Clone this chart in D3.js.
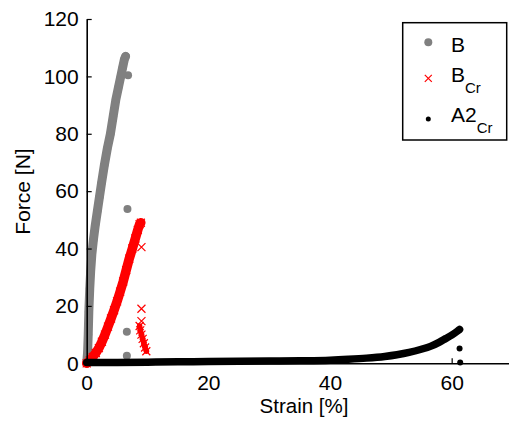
<!DOCTYPE html>
<html>
<head>
<meta charset="utf-8">
<script src="https://cdn.jsdelivr.net/npm/d3@7"></script>
<style>
  html, body { margin: 0; padding: 0; background: #fff; }
  svg { display: block; }
  text { font-family: "Liberation Sans", Arial, sans-serif; fill: #000; }
</style>
</head>
<body>
<svg id="chart" width="509" height="423"></svg>
<script>
// ---- data (strain %, force N) ----
const seriesNames = ["B", "B_Cr", "A2_Cr"];
const xTicks = [0, 20, 40, 60];
const yTicks = [0, 20, 40, 60, 80, 100, 120];

// B (grey dots) main curve
const bStrain = [0, 0.15, 0.25, 0.35, 0.5, 0.65, 0.85, 1.1, 1.4, 1.75, 2.1, 2.45, 2.9, 3.4, 3.9, 4.35, 4.8, 5.2, 5.6, 5.9, 6.2, 6.4];
const bForce  = [0, 4, 10, 18, 26, 32, 38, 43, 48, 53, 58, 63, 69, 75, 80, 86, 92, 96, 100, 103, 106, 107];
// B failure points
const bTailStrain = [6.8, 6.7, 6.6, 6.6];
const bTailForce  = [100.4, 53.8, 11, 2.6];

// B_Cr (red crosses) main curve
const bcrStrain = [0, 0.5, 1, 1.5, 2, 2.5, 3, 3.5, 4, 4.5, 5, 5.5, 6, 6.5, 7, 7.5, 8, 8.4, 8.7, 8.9];
const bcrForce  = [0, 1, 2.2, 3.6, 5.3, 7.5, 10, 12.8, 15.6, 18.5, 21.6, 25, 28.5, 32.5, 36.5, 40, 43.5, 46.5, 48.5, 49];
// B_Cr failure points
const bcrDropStrain = [9.0, 9.0, 9.0];
const bcrDropForce  = [40.5, 19, 14.7];
const bcrTailStrain = [8.7, 8.8, 9.0, 9.2, 9.4, 9.6, 9.8];
const bcrTailForce  = [13, 11.5, 10, 8.5, 7, 5.5, 4.2];

// A2_Cr (black dots) main curve
const a2Strain = [0, 5, 10, 15, 20, 25, 30, 35, 40, 43, 46, 49, 51, 53, 55, 56.5, 58, 59, 60, 61, 61.3];
const a2Force  = [0.3, 0.3, 0.4, 0.5, 0.6, 0.7, 0.8, 0.9, 1.1, 1.4, 1.8, 2.4, 3.0, 3.8, 4.9, 5.9, 7.4, 8.6, 9.8, 11.3, 11.8];
const a2TailStrain = [61.3, 61.4];
const a2TailForce  = [5.2, 0.3];

const zip = (xs, ys) => xs.map((v, i) => [v, ys[i]]);

// ---- layout ----
const svg = d3.select("#chart");
const x = d3.scaleLinear().domain([0, 70]).range([86.7, 512.5]);
const y = d3.scaleLinear().domain([0, 120]).range([363.3, 19]);

const grey = "#808080", red = "#ff0000", black = "#000000";
const line = d3.line().x(d => x(d[0])).y(d => y(d[1])).curve(d3.curveMonotoneX);
const lineY = d3.line().x(d => x(d[0])).y(d => y(d[1])).curve(d3.curveLinear);

const plot = svg.append("g");

// B
plot.append("path").datum(zip(bStrain, bForce)).attr("d", lineY)
  .attr("fill", "none").attr("stroke", grey).attr("stroke-width", 9)
  .attr("stroke-linecap", "round").attr("stroke-linejoin", "round");
plot.selectAll(".bdot").data(zip(bStrain, bForce).concat(zip(bTailStrain, bTailForce))).join("circle")
  .attr("cx", d => x(d[0])).attr("cy", d => y(d[1])).attr("r", 4).attr("fill", grey);

// B_Cr
plot.append("path").datum(zip(bcrStrain, bcrForce)).attr("d", lineY)
  .attr("fill", "none").attr("stroke", red).attr("stroke-width", 9.5)
  .attr("stroke-linecap", "round").attr("stroke-linejoin", "round");
plot.append("path").datum(zip(bcrTailStrain, bcrTailForce)).attr("d", lineY)
  .attr("fill", "none").attr("stroke", red).attr("stroke-width", 5.5)
  .attr("stroke-linecap", "round").attr("stroke-linejoin", "round");
const cross = (g, px, py, s) => g.append("path")
  .attr("d", `M${px - s},${py - s}L${px + s},${py + s}M${px - s},${py + s}L${px + s},${py - s}`)
  .attr("stroke", red).attr("stroke-width", 1.2).attr("fill", "none");
zip(bcrStrain, bcrForce).concat(zip(bcrDropStrain, bcrDropForce), zip(bcrTailStrain, bcrTailForce))
  .forEach(d => cross(plot, x(d[0]), y(d[1]), 4));

// A2_Cr
plot.append("path").datum(zip(a2Strain, a2Force)).attr("d", line)
  .attr("fill", "none").attr("stroke", black).attr("stroke-width", 7.5)
  .attr("stroke-linecap", "round").attr("stroke-linejoin", "round");
plot.selectAll(".adot").data(zip(a2TailStrain, a2TailForce)).join("circle")
  .attr("cx", d => x(d[0])).attr("cy", d => y(d[1])).attr("r", 3).attr("fill", black);

// ---- axes ----
const fs = 21;
const gx = svg.append("g").attr("transform", `translate(0,${y(0)})`)
  .call(d3.axisBottom(x).tickValues(xTicks).tickSize(-5).tickSizeOuter(0).tickPadding(11.5).tickFormat(d3.format("d")));
const gy = svg.append("g").attr("transform", `translate(${x(0)},0)`)
  .call(d3.axisLeft(y).tickValues(yTicks).tickSize(-5).tickSizeOuter(0).tickPadding(8).tickFormat(d3.format("d")));
[gx, gy].forEach(g => {
  g.select(".domain").attr("stroke", "#000").attr("stroke-width", 1.6);
  g.selectAll(".tick line").attr("stroke", "#000").attr("stroke-width", 1.2);
  g.selectAll("text").attr("font-size", fs).attr("font-family", "Liberation Sans, Arial, sans-serif").attr("fill", "#000");
});

svg.append("text").attr("x", 304).attr("y", 412.5).attr("text-anchor", "middle")
  .attr("font-size", 20.5).text("Strain [%]");
svg.append("text").attr("transform", "translate(30,191.5) rotate(-90)").attr("text-anchor", "middle")
  .attr("font-size", fs).text("Force [N]");

// ---- legend ----
const lg = svg.append("g");
lg.append("rect").attr("x", 402.7).attr("y", 22.7).attr("width", 104).attr("height", 117.3)
  .attr("fill", "#fff").attr("stroke", "#000").attr("stroke-width", 1.5);
const legendRows = [
  { main: "B", sub: "", cy: 42.3, base: 51.7 },
  { main: "B", sub: "Cr", cy: 78.3, base: 81.7 },
  { main: "A2", sub: "Cr", cy: 119, base: 121.7 }
];
legendRows.forEach((r, i) => {
  if (i === 0) lg.append("circle").attr("cx", 428.3).attr("cy", r.cy).attr("r", 4).attr("fill", grey);
  if (i === 1) {
    const s = 3.5;
    lg.append("path").attr("d", `M${428.3 - s},${r.cy - s}L${428.3 + s},${r.cy + s}M${428.3 - s},${r.cy + s}L${428.3 + s},${r.cy - s}`)
      .attr("stroke", red).attr("stroke-width", 1.2);
  }
  if (i === 2) lg.append("circle").attr("cx", 428.3).attr("cy", r.cy).attr("r", 2.5).attr("fill", black);
  const t = lg.append("text").attr("x", 451).attr("y", r.base).attr("font-size", fs);
  t.append("tspan").text(r.main);
  if (r.sub) t.append("tspan").attr("font-size", 15).attr("dy", 11).text(r.sub);
});
</script>
</body>
</html>
